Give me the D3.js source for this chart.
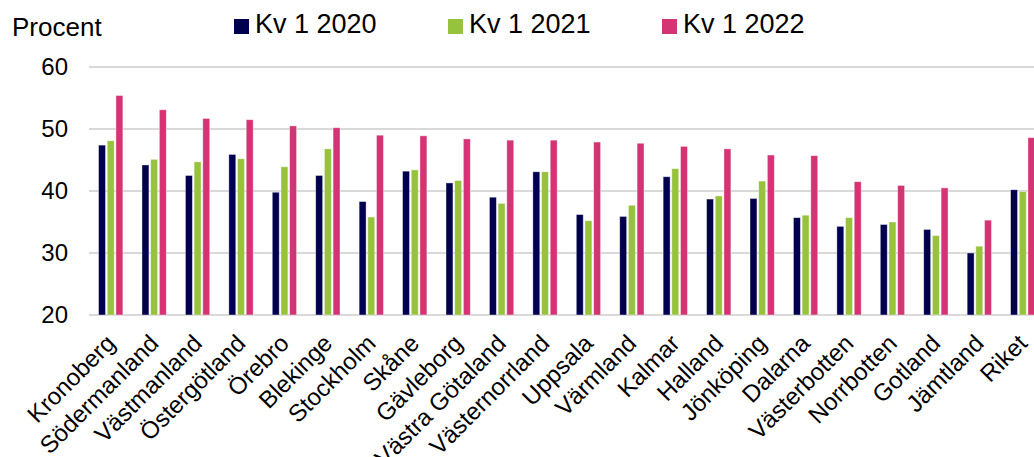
<!DOCTYPE html>
<html>
<head>
<meta charset="utf-8">
<script src="https://cdn.jsdelivr.net/npm/d3@7"></script>
<style>
  body { margin: 0; background: #fff; }
  text { font-family: "Liberation Sans", Arial, sans-serif; fill: #000; }
</style>
</head>
<body>
<div id="chart"></div>
<script>
// data
const categories = ["Kronoberg", "Södermanland", "Västmanland", "Östergötland", "Örebro",
  "Blekinge", "Stockholm", "Skåne", "Gävleborg", "Västra Götaland", "Västernorrland",
  "Uppsala", "Värmland", "Kalmar", "Halland", "Jönköping", "Dalarna", "Västerbotten",
  "Norrbotten", "Gotland", "Jämtland", "Riket"];
const seriesNames = ["Kv 1 2020", "Kv 1 2021", "Kv 1 2022"];
const kv2020 = [47.4, 44.2, 42.5, 45.9, 39.8, 42.5, 38.3, 43.2, 41.3, 39.0, 43.1,
  36.2, 35.9, 42.3, 38.7, 38.8, 35.7, 34.3, 34.6, 33.8, 30.0, 40.2];
const kv2021 = [48.1, 45.1, 44.7, 45.2, 43.9, 46.8, 35.8, 43.4, 41.7, 38.0, 43.1,
  35.2, 37.7, 43.6, 39.2, 41.6, 36.1, 35.7, 35.0, 32.8, 31.1, 39.9];
const kv2022 = [55.4, 53.1, 51.7, 51.5, 50.5, 50.2, 49.0, 48.9, 48.4, 48.2, 48.2,
  47.9, 47.7, 47.2, 46.8, 45.8, 45.7, 41.5, 40.9, 40.5, 35.3, 48.6];
const yTicks = [20, 30, 40, 50, 60];
const colors = ["#01004f", "#97c23c", "#d43473"];

const W = 1034, H = 457;
const plotLeft = 89, plotTop = 67, plotBottom = 315;

const svg = d3.select("#chart").append("svg")
    .attr("width", W)
    .attr("height", H);

const data = categories.map((c, i) => ({
    key: c,
    values: [kv2020[i], kv2021[i], kv2022[i]]
}));

// scales - last group runs a bit past the right edge like in the original
const x = d3.scaleBand()
    .domain(categories)
    .range([plotLeft, plotLeft + categories.length * 43.43])
    .paddingInner(0.36)
    .paddingOuter(0.18);

const x1 = d3.scaleBand()
    .domain(seriesNames)
    .range([0, x.bandwidth()])
    .padding(0.2);

const y = d3.scaleLinear()
    .domain([20, 60])
    .range([plotBottom, plotTop]);

// gridlines
svg.append("g")
    .selectAll("line")
    .data(yTicks)
    .enter()
    .append("line")
    .attr("x1", plotLeft)
    .attr("x2", W)
    .attr("y1", d => y(d))
    .attr("y2", d => y(d))
    .attr("stroke", "#d9d9d9")
    .attr("stroke-width", 2);

// y axis labels
const yAxis = svg.append("g")
    .attr("transform", `translate(${plotLeft - 21},0)`)
    .call(d3.axisLeft(y).tickValues(yTicks).tickSize(0).tickPadding(0));
yAxis.select(".domain").remove();
yAxis.selectAll("text")
    .attr("font-size", "24px")
    .attr("font-family", "Liberation Sans, Arial, sans-serif")
    .attr("fill", "#000");

// bars
const groups = svg.append("g")
    .selectAll("g")
    .data(data)
    .enter()
    .append("g")
    .attr("transform", d => `translate(${x(d.key)},0)`);

groups.selectAll("rect")
    .data(d => d.values.map((v, i) => ({ name: seriesNames[i], value: v, i: i })))
    .enter()
    .append("rect")
    .attr("x", d => x1(d.name))
    .attr("width", x1.bandwidth())
    .attr("y", d => y(d.value))
    .attr("height", d => y(20) - y(d.value))
    .attr("fill", d => colors[d.i])
    .attr("stroke", "#ffffff")
    .attr("stroke-opacity", 0.5)
    .attr("stroke-width", 0.8);

// x axis labels, rotated
const xAxis = svg.append("g")
    .attr("transform", `translate(0,${plotBottom + 8})`)
    .call(d3.axisBottom(x).tickSize(0).tickPadding(0));
xAxis.select(".domain").remove();
xAxis.selectAll("text")
    .attr("font-size", "24px")
    .attr("font-family", "Liberation Sans, Arial, sans-serif")
    .attr("fill", "#000")
    .attr("text-anchor", "end")
    .attr("dy", "0.7em")
    .attr("transform", "translate(-6,10) rotate(-45)");

// y title
svg.append("text")
    .attr("x", 12)
    .attr("y", 36)
    .attr("font-size", "26px")
    .text("Procent");

// legend
const legend = svg.append("g")
    .attr("transform", "translate(234,19)");

seriesNames.forEach((s, i) => {
    const row = legend.append("g")
        .attr("transform", `translate(${i * 214}, 0)`);

    row.append("rect")
        .attr("width", 15)
        .attr("height", 15)
        .attr("fill", colors[i]);

    row.append("text")
        .attr("x", 21)
        .attr("y", 14)
        .attr("font-size", "27px")
        .text(s);
});
</script>
</body>
</html>
